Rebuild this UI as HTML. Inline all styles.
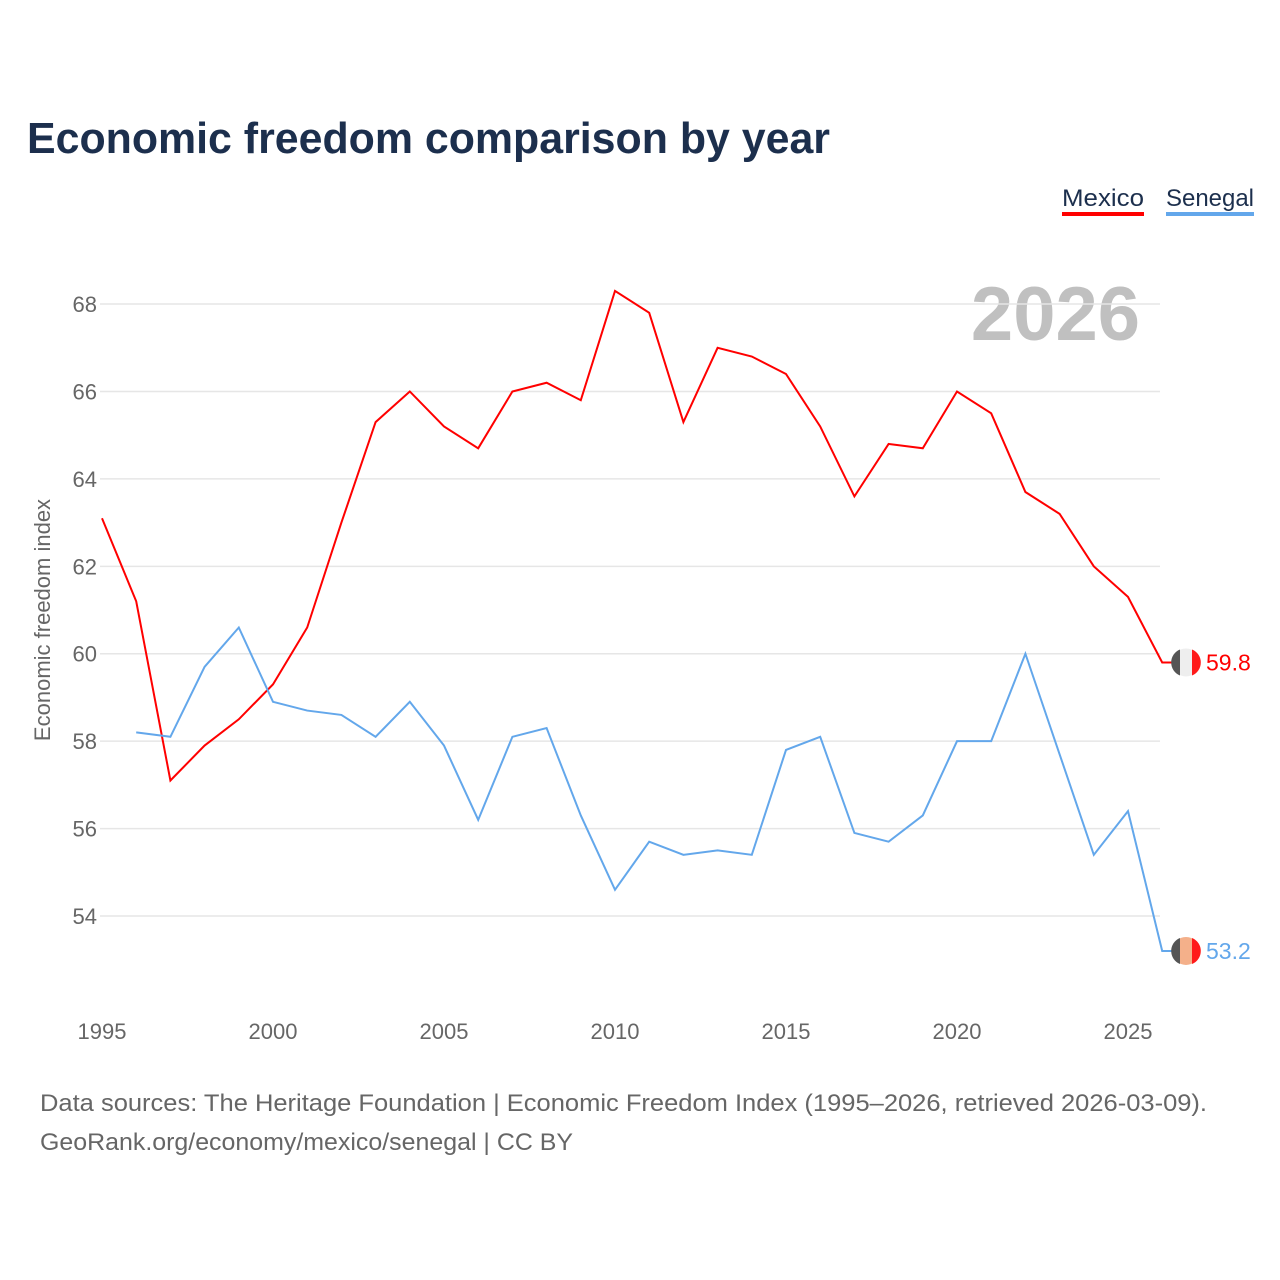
<!DOCTYPE html>
<html><head><meta charset="utf-8"><style>
body{margin:0;background:#fff;font-family:"Liberation Sans",sans-serif;}
svg{display:block}
</style></head><body>
<svg width="1280" height="1280" id="chart">
<text x="27" y="153" font-size="44" font-weight="bold" fill="#1c2f4d" textLength="803" lengthAdjust="spacingAndGlyphs">Economic freedom comparison by year</text>
<g>
<text x="1062" y="206" font-size="24" fill="#1c2f4d" textLength="82" lengthAdjust="spacingAndGlyphs">Mexico</text>
<rect x="1062" y="212" width="82" height="4" fill="#ff0000"/>
<text x="1166" y="206" font-size="24" fill="#1c2f4d" textLength="88" lengthAdjust="spacingAndGlyphs">Senegal</text>
<rect x="1166" y="212" width="88" height="4" fill="#63a7eb"/>
</g>
<text x="1140" y="340" font-size="76" font-weight="bold" fill="#c0c0c0" text-anchor="end">2026</text>
<text transform="translate(50,620) rotate(-90)" font-size="22" fill="#666" text-anchor="middle">Economic freedom index</text>
<g id="grid"></g><g id="lines"></g>
<text x="40" y="1111" font-size="24" fill="#666" textLength="1167" lengthAdjust="spacingAndGlyphs">Data sources: The Heritage Foundation | Economic Freedom Index (1995–2026, retrieved 2026-03-09).</text>
<text x="40" y="1150" font-size="24" fill="#666" textLength="533" lengthAdjust="spacingAndGlyphs">GeoRank.org/economy/mexico/senegal | CC BY</text>
</svg>
<script>
const years=[1995,1996,1997,1998,1999,2000,2001,2002,2003,2004,2005,2006,2007,2008,2009,2010,2011,2012,2013,2014,2015,2016,2017,2018,2019,2020,2021,2022,2023,2024,2025,2026];
const mexico=[63.1,61.2,57.1,57.9,58.5,59.3,60.6,63.0,65.3,66.0,65.2,64.7,66.0,66.2,65.8,68.3,67.8,65.3,67.0,66.8,66.4,65.2,63.6,64.8,64.7,66.0,65.5,63.7,63.2,62.0,61.3,59.8];
const senegal=[null,58.2,58.1,59.7,60.6,58.9,58.7,58.6,58.1,58.9,57.9,56.2,58.1,58.3,56.3,54.6,55.7,55.4,55.5,55.4,57.8,58.1,55.9,55.7,56.3,58.0,58.0,60.0,57.7,55.4,56.4,53.2];
const yTicks=[54,56,58,60,62,64,66,68];
const xTicks=[1995,2000,2005,2010,2015,2020,2025];
const NS="http://www.w3.org/2000/svg";
const xs=y=>102+(y-1995)*34.2;
const ys=v=>916-(v-54)*43.71;
function mk(t,a,p){const e=document.createElementNS(NS,t);for(const k in a)e.setAttribute(k,a[k]);p.appendChild(e);return e;}
const grid=document.getElementById('grid'),lines=document.getElementById('lines');
yTicks.forEach(v=>{
 const l=mk('line',{x1:100,x2:1160,y1:ys(v),y2:ys(v),stroke:'#e6e6e6','stroke-width':1.5},grid);
 
 
 const t=mk('text',{x:97,y:ys(v)+8,'font-size':22,fill:'#666','text-anchor':'end'},grid);t.textContent=v;
 
 
});
xTicks.forEach(y=>{
 const t=mk('text',{x:xs(y),y:1039,'font-size':22,fill:'#666','text-anchor':'middle'},grid);t.textContent=y;
 
 
});
function series(vals,color,name,flagMid){
 let d='';vals.forEach((v,i)=>{if(v==null)return;d+=(d?'L':'M')+xs(years[i])+','+ys(v);});
 const last=vals[vals.length-1],cy=ys(last);
 d+='L1173,'+cy;
 const p=mk('path',{d:d,fill:'none',stroke:color,'stroke-width':2},lines);
 
 
 const g=mk('g',{},lines);
 
 
 mk('circle',{cx:1186,cy:cy,r:14,fill:flagMid},g);
 mk('path',{d:`M1180,${cy-13} A14,14 0 0,0 1180,${cy+13} Z`,fill:'#555'},g);
 mk('path',{d:`M1192,${cy-13} A14,14 0 0,1 1192,${cy+13} Z`,fill:'#ff1a1a'},g);
 const t=mk('text',{x:1206,y:cy+8,'font-size':23,fill:color},lines);t.textContent=last.toFixed(1);
 
 
}
series(mexico,'#ff0000','mexico','#eeeeee');
series(senegal,'#63a7eb','senegal','#f4b08a');
</script>
</body></html>
